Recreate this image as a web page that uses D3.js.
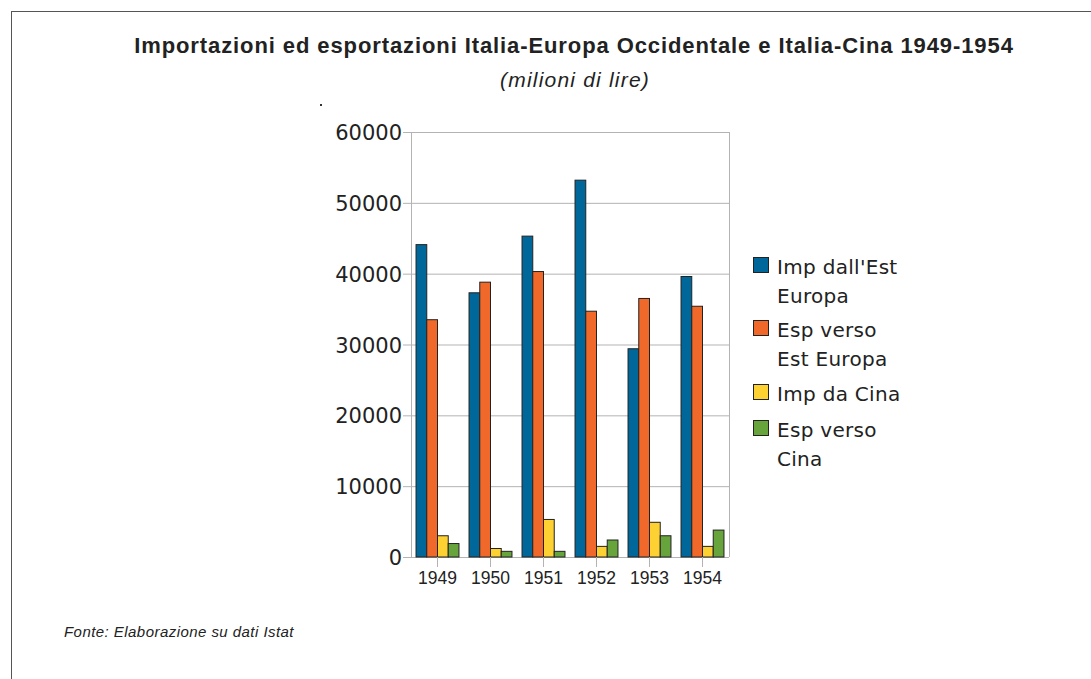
<!DOCTYPE html>
<html><head><meta charset="utf-8">
<script src="https://cdn.jsdelivr.net/npm/d3@7"></script>
<style>body{margin:0;background:#fff;} svg{display:block;}</style>
</head><body>
<svg id="chart" width="1091" height="679"></svg>
<script>
const years = ["1949","1950","1951","1952","1953","1954"];
const seriesNames = ["Imp dall'Est Europa","Esp verso Est Europa","Imp da Cina","Esp verso Cina"];
const legendLines = [["Imp dall'Est","Europa"],["Esp verso","Est Europa"],["Imp da Cina"],["Esp verso","Cina"]];
const impEst = [44100, 37300, 45300, 53200, 29400, 39600];
const espEst = [33500, 38800, 40300, 34700, 36500, 35400];
const impCina = [3000, 1200, 5300, 1500, 4900, 1500];
const espCina = [1900, 800, 800, 2400, 3000, 3800];
const yTicks = [0,10000,20000,30000,40000,50000,60000];
const colors = ["#00679a","#f1692a","#fed132","#67a53c"];

(function(){
const series = [impEst, espEst, impCina, espCina];
const svg = d3.select("#chart");

// frame
svg.append("rect").attr("x",11.5).attr("y",11.5).attr("width",1100).attr("height",700)
  .attr("fill","none").attr("stroke","#555").attr("stroke-width",1);

svg.append("text").attr("x",574).attr("y",53).attr("text-anchor","middle")
  .attr("font-family","Liberation Sans, Arial, sans-serif").attr("font-weight","bold")
  .attr("font-size",22).attr("letter-spacing","0.9px").attr("fill","#222")
  .text("Importazioni ed esportazioni Italia-Europa Occidentale e Italia-Cina 1949-1954");
svg.append("text").attr("x",575).attr("y",87).attr("text-anchor","middle")
  .attr("font-family","Liberation Sans, Arial, sans-serif").attr("font-style","italic")
  .attr("font-size",21).attr("letter-spacing","1.2px").attr("fill","#222")
  .text("(milioni di lire)");
svg.append("rect").attr("x",320).attr("y",104).attr("width",2).attr("height",2).attr("fill","#333");

svg.append("text").attr("x",64).attr("y",637)
  .attr("font-family","Liberation Sans, Arial, sans-serif").attr("font-style","italic")
  .attr("font-size",15).attr("letter-spacing","0.45px").attr("fill","#222")
  .text("Fonte: Elaborazione su dati Istat");

const pLeft=411, pRight=729, pTop=132, pBottom=557;
const x0 = d3.scaleBand().domain(years).range([pLeft,pRight]).paddingInner(0.19).paddingOuter(0.095);
const x1 = d3.scaleBand().domain(d3.range(4)).range([0,x0.bandwidth()]);
const y = d3.scaleLinear().domain([0,60000]).range([pBottom,pTop]);

// gridlines
const g = svg.append("g");
g.selectAll("line.grid").data(yTicks).join("line")
  .attr("x1",pLeft-8).attr("x2",pRight).attr("y1",d=>y(d)+0.5).attr("y2",d=>y(d)+0.5)
  .attr("stroke","#b3b3b3").attr("stroke-width",1);
g.append("line").attr("x1",pLeft+0.5).attr("x2",pLeft+0.5).attr("y1",pTop).attr("y2",pBottom)
  .attr("stroke","#b3b3b3");
g.append("line").attr("x1",pRight+0.5).attr("x2",pRight+0.5).attr("y1",pTop).attr("y2",pBottom)
  .attr("stroke","#b3b3b3");

// y labels
const yAxis = d3.axisLeft(y).tickValues(yTicks).tickSize(0).tickPadding(9).tickFormat(d3.format("d"));
const ya = svg.append("g").attr("transform",`translate(${pLeft},0)`).call(yAxis);
ya.select(".domain").remove();
ya.selectAll("text").attr("font-family","DejaVu Sans, sans-serif").attr("font-size",21).attr("fill","#222").attr("dy","0.36em");

// bars
const groups = svg.append("g").selectAll("g").data(years).join("g")
  .attr("transform",d=>`translate(${x0(d)},0)`);
groups.selectAll("rect").data((d,i)=>series.map((s,k)=>({k, v:s[i]}))).join("rect")
  .attr("x",d=>x1(d.k)).attr("width",x1.bandwidth())
  .attr("y",d=>y(d.v)).attr("height",d=>pBottom-y(d.v))
  .attr("fill",d=>colors[d.k]).attr("stroke","#222").attr("stroke-width",1);

// x axis
const xAxis = d3.axisBottom(x0).tickSize(10).tickPadding(5);
const xa = svg.append("g").attr("transform",`translate(0,${pBottom})`).call(xAxis);
xa.select(".domain").remove();
xa.selectAll(".tick line").attr("stroke","#b3b3b3");
xa.selectAll("text").attr("font-family","Liberation Sans, Arial, sans-serif").attr("font-size",17.5).attr("fill","#222");

// legend
const leg = svg.append("g");
const legY = [257, 320, 384, 420];
legendLines.forEach((lines,i)=>{
  leg.append("rect").attr("x",753.5).attr("y",legY[i]+0.5).attr("width",15).attr("height",15)
    .attr("fill",colors[i]).attr("stroke","#222").attr("stroke-width",1);
  const t = leg.append("text").attr("x",777).attr("y",legY[i]+16.5)
    .attr("font-family","DejaVu Sans, sans-serif").attr("font-size",20).attr("letter-spacing","0.3px").attr("fill","#222");
  lines.forEach((l,j)=>t.append("tspan").attr("x",777).attr("dy",j?29.5:0).text(l));
});
})();
</script>
</body></html>
